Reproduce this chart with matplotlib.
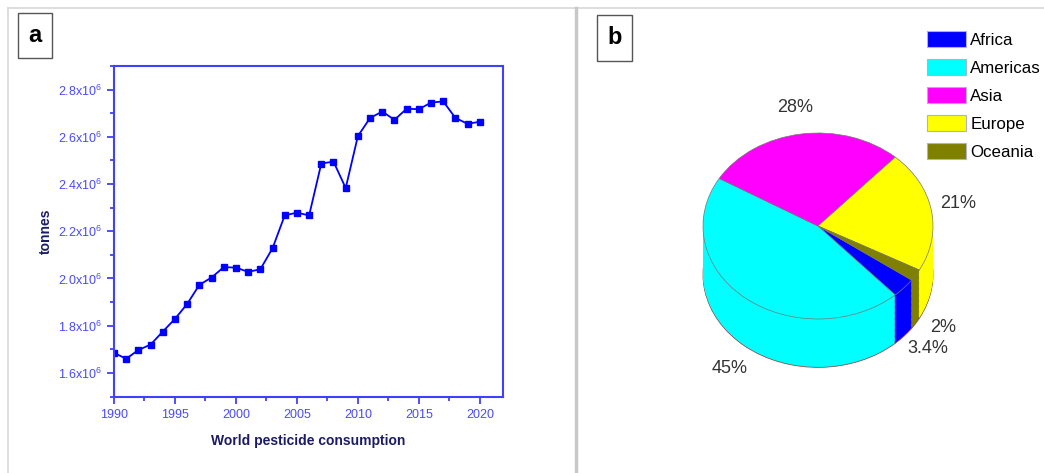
import numpy as np
import matplotlib
matplotlib.use("Agg")
import matplotlib.pyplot as plt
from matplotlib.patches import Patch, Rectangle
from matplotlib.lines import Line2D
from matplotlib.ticker import MultipleLocator, FuncFormatter

# panel a: world pesticide consumption (tonnes)
years = list(range(1990, 2021))
tonnes = [1.685e6, 1.660e6, 1.697e6, 1.720e6, 1.775e6, 1.829e6, 1.892e6, 1.973e6,
          2.004e6, 2.048e6, 2.046e6, 2.028e6, 2.039e6, 2.128e6, 2.267e6, 2.279e6,
          2.267e6, 2.487e6, 2.495e6, 2.383e6, 2.603e6, 2.680e6, 2.707e6, 2.672e6,
          2.719e6, 2.717e6, 2.745e6, 2.750e6, 2.680e6, 2.655e6, 2.664e6]

# panel b: share by region (%)
regions = ["Africa", "Americas", "Asia", "Europe", "Oceania"]
shares = [3.4, 45, 28, 21, 2]
region_colors = ["#0000ff", "#00ffff", "#ff00ff", "#ffff00", "#808000"]

W, H = 1044, 473
fig = plt.figure(figsize=(W / 100, H / 100), dpi=100)
plt.rcParams['font.family'] = ['Liberation Sans', 'DejaVu Sans']


def px(x, y):
    return x / W, 1 - y / H


def box(x0, y0, x1, y1):
    l, t = px(x0, y0)
    r, b = px(x1, y1)
    return [l, b, r - l, t - b]


# panel frames
fig.add_artist(Line2D([8 / W, 1], [1 - 8 / H] * 2, color="#d8d8d8", lw=1.2))
fig.add_artist(Line2D([8 / W] * 2, [0, 1 - 8 / H], color="#d8d8d8", lw=1.2))
fig.add_artist(Line2D([576 / W] * 2, [0, 1 - 8 / H], color="#c8c8c8", lw=2.5))

# panel letters
for letter, (x0, y0, x1, y1) in [("a", (18, 13, 52, 58)), ("b", (597, 15, 632, 61))]:
    l, b, w, h = box(x0, y0, x1, y1)
    fig.add_artist(Rectangle((l, b), w, h, transform=fig.transFigure,
                             fill=False, ec="#555555", lw=1))
    fig.text(l + w / 2, b + h / 2, letter, ha="center", va="center",
             fontsize=17, fontweight="bold", color="black")

# ---- panel a ----
blue = "#0000ff"
axis_blue = "#4040ff"
navy = "#1c1c66"
ax = fig.add_axes(box(114, 66, 503, 397))
ax.plot(years, tonnes, color=blue, lw=1.3, marker="s", ms=5)
ax.set_xlim(1990, 2021.9)
ax.set_ylim(1.498e6, 2.9e6)
ax.xaxis.set_major_locator(MultipleLocator(5))
ax.xaxis.set_minor_locator(MultipleLocator(2.5))
ax.yaxis.set_major_locator(MultipleLocator(0.2e6))
ax.yaxis.set_minor_locator(MultipleLocator(0.1e6))
ax.yaxis.set_major_formatter(FuncFormatter(
    lambda v, p: r"$\mathregular{%.1fx10^{6}}$" % (v / 1e6)))
for s in ax.spines.values():
    s.set_color(axis_blue)
    s.set_linewidth(1.5)
ax.tick_params(which="both", direction="out", color=axis_blue, width=1.3,
               labelcolor="#4a4aff", labelsize=9)
ax.tick_params(which="major", length=5)
ax.tick_params(which="minor", length=3)
ax.tick_params(axis="x", pad=4)
ax.set_ylabel("tonnes", fontsize=10, fontweight="bold", color=navy, labelpad=4)
ax.set_xlabel("World pesticide consumption", fontsize=10, fontweight="bold",
              color=navy, labelpad=9)

# ---- panel b: pseudo-3D pie ----
pax = fig.add_axes(box(680, 100, 960, 400))
depth = 0.52
start = -35.5
layers = 40
for k in range(layers, 0, -1):
    pax.pie(shares, colors=region_colors, startangle=start, counterclock=False,
            center=(0, -depth * k / layers),
            wedgeprops=dict(linewidth=0, antialiased=True))
    if k == layers:
        pax.pie(shares, colors=["none"] * 5, startangle=start, counterclock=False,
                center=(0, -depth),
                wedgeprops=dict(linewidth=0.6, edgecolor="#8a5050", fill=False))
pax.pie(shares, colors=region_colors, startangle=start, counterclock=False,
        wedgeprops=dict(linewidth=0.5, edgecolor="#777777"))
pax.set_aspect("auto")
pax.set_xlim((680 - 818) / 115, (960 - 818) / 115)
pax.set_ylim((226 - 400) / 93, (226 - 100) / 93)
pax.axis("off")

label_pos = {"Africa": (928, 348), "Americas": (730, 368), "Asia": (795, 108),
             "Europe": (958, 203), "Oceania": (943, 328)}
for name, v in zip(regions, shares):
    x, y = px(*label_pos[name])
    fig.text(x, y, f"{v:g}%", ha="center", va="center", fontsize=13,
             color="#333333")

handles = [Patch(facecolor=c, edgecolor="#b0b0d0", lw=0.8) for c in region_colors]
lx, ly = px(927, 31)
fig.legend(handles, regions, loc="upper left", bbox_to_anchor=(lx, ly),
           frameon=False, fontsize=12.2, handlelength=2.3, handleheight=1.1,
           handletextpad=0.25, labelspacing=0.65, borderpad=0, borderaxespad=0)

fig.savefig("out.png", dpi=100)
